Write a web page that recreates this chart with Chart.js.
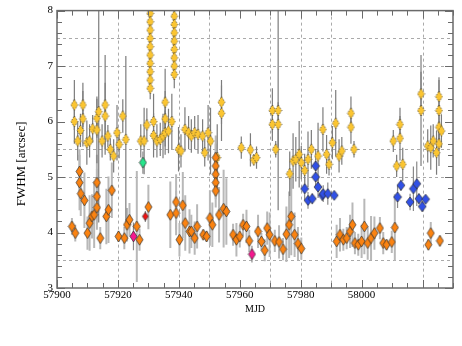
<!DOCTYPE html>
<html lang="en">
<head>
<meta charset="UTF-8">
<title>FWHM vs MJD</title>
<script src="https://cdn.jsdelivr.net/npm/chart.js"></script>
<style>
  html, body { margin: 0; padding: 0; background: #fff; }
  #wrap { width: 462px; height: 346px; }
</style>
</head>
<body>
<div id="wrap"><canvas id="chart" width="462" height="346"></canvas></div>
<script>
// seeing measurements, one set of arrays per colour group
const goldMjd = [57905.7,57905.7,57906.8,57907.7,57908.5,57908.5,57909.8,57910.7,57911.7,57913.1,57913.1,57913.7,57914.8,57915.8,57915.8,57916.7,57917.5,57918.6,57919.7,57920.4,57921.6,57922.6,57927.5,57928.6,57929.5,
    57930.6,57930.6,57930.6,57930.6,57930.6,57930.6,57930.6,57930.6,57930.6,57930.6,
    57931.7,57931.7,57932.8,57933.9,57934.8,57935.5,57935.5,57935.5,57936.6,57937.7,
    57938.5,57938.5,57938.5,57938.5,57938.5,57938.5,57938.5,57938.5,
    57939.9,57940.7,57942.0,57943.2,57944.1,57945.2,57946.3,57947.8,57948.5,57949.6,57950.4,57952.6,57954.0,57954.0,57960.5,57963.5,57964.6,57965.5,57970.7,57970.7,57971.8,57972.6,57972.6,57976.4,57977.5,57978.4,57979.5,57980.2,57981.3,57982.4,57983.5,57985.7,57987.3,57988.5,57989.3,57990.4,57991.5,57992.6,57993.5,57996.5,57996.5,57997.5,58010.4,58011.5,58012.6,58012.6,58013.5,58019.5,58019.5,58021.7,58022.7,58023.5,58024.6,58025.4,58025.4,58025.4,58025.4,58026.2];
const goldFwhm = [6.30,6.00,5.65,5.84,6.30,6.05,5.62,5.65,5.87,6.06,5.85,6.18,5.65,6.30,6.10,5.74,5.50,5.38,5.80,5.59,6.10,5.68,5.65,5.65,5.94,
    7.95,7.80,7.65,7.50,7.35,7.20,7.05,6.90,6.75,6.60,
    6.00,5.75,5.65,5.68,5.74,6.35,6.05,5.80,5.83,6.00,
    7.90,7.75,7.60,7.45,7.30,7.15,7.00,6.85,
    5.50,5.47,5.86,5.80,5.74,5.80,5.77,5.74,5.44,5.80,5.65,5.35,6.35,6.15,5.53,5.49,5.31,5.35,6.20,5.95,5.50,6.20,5.95,5.06,5.29,5.32,5.41,5.26,5.12,5.32,5.50,5.38,5.86,5.41,5.23,5.62,5.97,5.38,5.47,6.15,5.90,5.50,5.65,5.20,5.95,5.70,5.23,6.50,6.20,5.56,5.53,5.65,5.44,6.45,6.20,5.90,5.60,5.83];
const goldErr = [0.45,0.40,0.35,0.30,0.40,0.50,0.40,0.30,0.25,0.35,0.60,2.00,0.30,0.90,0.60,0.20,0.20,0.30,0.50,0.25,0.30,1.50,0.30,0.60,0.30,
    0.20,0.20,0.20,0.20,0.20,0.20,0.20,0.20,0.20,0.20,
    0.50,0.40,0.30,0.30,0.40,0.60,0.50,0.40,0.40,0.50,
    0.25,0.25,0.25,0.25,0.25,0.25,0.25,0.25,
    0.40,0.30,0.40,0.30,0.30,0.30,0.35,0.30,0.25,0.50,0.60,0.60,0.40,0.50,0.20,0.30,0.10,0.20,0.40,0.30,0.15,1.80,0.40,0.40,0.50,0.40,0.60,0.30,0.30,0.50,0.35,0.60,0.40,0.35,0.20,0.30,0.60,0.30,0.25,0.30,0.30,0.15,0.20,0.20,0.30,0.40,0.30,0.40,1.00,0.30,0.40,0.30,0.40,0.30,0.60,0.40,0.40,0.30];

const orangeMjd = [57904.9,57906.0,57907.4,57907.4,57907.8,57909.0,57910.0,57910.7,57911.5,57912.2,57913.1,57913.1,57913.1,57914.2,57916.2,57916.9,57918.0,57920.2,57922.1,57923.0,57923.8,57926.2,57927.1,57930.0,57937.2,57939.1,57939.1,57940.2,57941.3,57942.1,57943.5,57944.1,57945.2,57946.0,57948.0,57949.1,57950.2,57951.0,
    57952.1,57952.1,57952.1,57952.1,57952.1,
    57953.2,57954.7,57955.6,57957.8,57958.9,57960.0,57961.1,57962.2,57963.1,57966.0,57967.1,57968.2,57969.0,57969.8,57971.5,57972.9,57974.2,57975.3,57976.2,57976.9,57978.0,57979.1,57980.2,57991.8,57992.9,57994.0,57995.1,57996.2,57997.0,57997.8,57998.9,58000.0,58000.9,58002.0,58003.1,58004.2,58006.0,58007.1,58008.2,58009.9,58010.9,58021.9,58022.7,58025.7];
const orangeFwhm = [4.11,3.99,5.10,4.90,4.70,4.58,3.99,4.17,4.29,4.32,4.90,4.65,4.45,3.90,4.29,4.41,4.76,3.93,3.90,4.14,4.23,4.11,3.87,4.46,4.32,4.55,4.35,3.87,4.49,4.17,4.02,4.02,3.90,4.11,3.96,3.93,4.26,4.14,
    5.35,5.20,5.05,4.90,4.75,
    4.32,4.43,4.38,3.96,3.87,3.93,4.14,4.11,3.85,4.02,3.84,3.68,4.08,3.96,3.85,3.83,3.70,3.97,4.14,4.29,3.96,3.80,3.71,3.84,3.96,3.87,3.90,4.02,4.14,3.81,3.78,3.84,4.11,3.81,3.90,3.99,4.08,3.81,3.78,3.83,4.09,3.78,3.99,3.85];
const orangeErr = [0.15,0.15,0.40,0.50,0.40,0.50,0.30,0.50,0.40,0.60,0.50,0.50,0.40,0.20,0.50,0.60,0.50,0.10,0.20,0.30,0.30,1.00,0.20,0.40,0.60,0.50,0.40,0.30,0.60,0.50,0.40,0.30,0.30,0.40,0.10,0.10,0.50,0.40,
    0.40,0.40,0.40,0.30,0.30,
    0.50,0.70,0.60,0.20,0.30,0.20,0.20,0.30,0.20,0.30,0.15,0.20,0.30,0.40,0.20,0.30,0.20,0.50,0.60,0.70,0.40,0.30,0.20,0.30,0.30,0.20,0.20,0.30,0.40,0.20,0.20,0.30,0.50,0.30,0.40,0.30,0.20,0.20,0.10,0.20,0.60,0.10,0.20,0.10];

const blueMjd = [57981.3,57982.4,57983.8,57984.9,57984.9,57985.7,57987.1,57987.4,57988.9,57991.0,58011.8,58012.9,58015.9,58017.0,58018.1,58018.8,58019.9,58021.0];
const blueFwhm = [4.79,4.58,4.61,5.20,5.00,4.82,4.67,4.70,4.70,4.67,4.64,4.85,4.55,4.79,4.88,4.61,4.47,4.60];
const blueErr = [0.20,0.15,0.10,0.30,0.20,0.20,0.10,0.15,0.20,0.05,0.20,0.10,0.15,0.40,0.40,0.10,0.10,0.05];

const pinkMjd = [57925.1, 57964.0];
const pinkFwhm = [3.93, 3.61];
const pinkErr = [0.25, 0.15];

const greenMjd = [57928.2];
const greenFwhm = [5.26];
const greenErr = [0.20];

const redMjd = [57929.0];
const redFwhm = [4.29];
const redErr = [0.10];

// reference lines
const xRefLines = [57920, 57940, 57950, 57970, 57980, 57990, 58020];
const yRefLines = [3.5, 5, 5.5, 7, 7.5];

function toPoints(xs, ys, es) {
    return xs.map((x, i) => ({ x: x, y: ys[i], err: es[i] }));
}

function diamond(fill, w, h, dashed) {
    const c = document.createElement('canvas');
    c.width = w + 2;
    c.height = h + 2;
    const g = c.getContext('2d');
    const cx = c.width / 2, cy = c.height / 2;
    g.beginPath();
    g.moveTo(cx, cy - h / 2);
    g.lineTo(cx + w / 2, cy);
    g.lineTo(cx, cy + h / 2);
    g.lineTo(cx - w / 2, cy);
    g.closePath();
    g.fillStyle = fill;
    g.fill();
    g.strokeStyle = 'rgba(40,40,40,0.85)';
    g.lineWidth = 0.8;
    if (dashed) g.setLineDash([1.5, 1.5]);
    g.stroke();
    return c;
}

function series(xs, ys, es, fill, errColor, errWidth, w, h, dashed) {
    return {
        data: toPoints(xs, ys, es),
        pointStyle: diamond(fill, w, h, dashed),
        errColor: errColor,
        errWidth: errWidth
    };
}

const refGrid = {
    id: 'refGrid',
    beforeDatasetsDraw(chart) {
        const { ctx, chartArea: a, scales: { x, y } } = chart;
        ctx.save();
        ctx.strokeStyle = '#aaa';
        ctx.lineWidth = 1;
        ctx.setLineDash([3, 3]);
        xRefLines.forEach(v => {
            const px = Math.round(x.getPixelForValue(v)) + 0.5;
            ctx.beginPath(); ctx.moveTo(px, a.top); ctx.lineTo(px, a.bottom); ctx.stroke();
        });
        yRefLines.forEach(v => {
            const py = Math.round(y.getPixelForValue(v)) + 0.5;
            ctx.beginPath(); ctx.moveTo(a.left, py); ctx.lineTo(a.right, py); ctx.stroke();
        });
        ctx.restore();
    }
};

const errorBars = {
    id: 'errorBars',
    beforeDatasetsDraw(chart) {
        const { ctx, chartArea: a, scales: { x, y } } = chart;
        ctx.save();
        ctx.beginPath();
        ctx.rect(a.left, a.top, a.right - a.left, a.bottom - a.top);
        ctx.clip();
        chart.data.datasets.forEach(ds => {
            ctx.strokeStyle = ds.errColor;
            ctx.lineWidth = ds.errWidth;
            ds.data.forEach(p => {
                const px = x.getPixelForValue(p.x);
                ctx.beginPath();
                ctx.moveTo(px, y.getPixelForValue(p.y - p.err));
                ctx.lineTo(px, y.getPixelForValue(p.y + p.err));
                ctx.stroke();
            });
        });
        ctx.restore();
    }
};

// box around the plot with inward ticks on all four sides
const frame = {
    id: 'frame',
    afterDatasetsDraw(chart) {
        const { ctx, chartArea: a, scales: { x, y } } = chart;
        ctx.save();
        ctx.strokeStyle = '#6a6a6a';
        ctx.lineWidth = 1;
        for (let v = 57900; v <= 58030; v += 5) {
            const px = Math.round(x.getPixelForValue(v)) + 0.5;
            const len = v % 20 === 0 ? 8 : 5;
            ctx.beginPath();
            ctx.moveTo(px, a.bottom); ctx.lineTo(px, a.bottom - len);
            ctx.moveTo(px, a.top); ctx.lineTo(px, a.top + len);
            ctx.stroke();
        }
        for (let i = 0; i <= 25; i++) {
            const v = 3 + i * 0.2;
            const py = Math.round(y.getPixelForValue(v)) + 0.5;
            const len = i % 5 === 0 ? 8 : 5;
            ctx.beginPath();
            ctx.moveTo(a.left, py); ctx.lineTo(a.left + len, py);
            ctx.moveTo(a.right, py); ctx.lineTo(a.right - len, py);
            ctx.stroke();
        }
        ctx.lineWidth = 1.5;
        ctx.strokeRect(a.left, a.top, a.right - a.left, a.bottom - a.top);
        ctx.restore();
    }
};

const serif = 'Liberation Serif, Times New Roman, serif';

new Chart(document.getElementById('chart'), {
    type: 'scatter',
    data: {
        datasets: [
            series(orangeMjd, orangeFwhm, orangeErr, '#fb8311', '#b8b8b8', 2, 7, 11, false),
            series(goldMjd, goldFwhm, goldErr, '#fbc531', '#7c7c7c', 1.2, 7, 11, true),
            series(blueMjd, blueFwhm, blueErr, '#3050e6', '#8a8a8a', 1.2, 8, 10, false),
            series(greenMjd, greenFwhm, greenErr, '#27e58c', '#8a8a8a', 1.2, 7, 11, false),
            series(pinkMjd, pinkFwhm, pinkErr, '#f5178f', '#8a8a8a', 1.2, 7, 11, false),
            series(redMjd, redFwhm, redErr, '#f21010', '#8a8a8a', 1.2, 6, 8, false)
        ]
    },
    options: {
        responsive: false,
        animation: false,
        layout: { padding: { left: 0, right: 9, top: 6, bottom: 0 } },
        plugins: { legend: { display: false }, tooltip: { enabled: false } },
        scales: {
            x: {
                type: 'linear',
                min: 57900,
                max: 58030,
                afterFit: s => { s.height = 58; },
                grid: { display: false, drawTicks: false },
                border: { display: false },
                ticks: {
                    stepSize: 20,
                    autoSkip: false,
                    maxRotation: 0,
                    padding: 1,
                    color: '#000',
                    font: { family: serif, size: 11 },
                    callback: v => (v % 20 === 0 ? String(v) : '')
                },
                title: {
                    display: true,
                    text: 'MJD',
                    color: '#000',
                    font: { family: serif, size: 10 },
                    padding: { top: 0, bottom: 31 }
                }
            },
            y: {
                min: 3,
                max: 8,
                afterFit: s => { s.width = 57; },
                grid: { display: false, drawTicks: false },
                border: { display: false },
                ticks: {
                    stepSize: 1,
                    padding: 4,
                    color: '#000',
                    font: { family: serif, size: 11 },
                    callback: v => String(v)
                },
                title: {
                    display: true,
                    // trailing spaces push the rotated label a little lower, as in the original
                    text: 'FWHM [arcsec]         ',
                    color: '#000',
                    font: { family: serif, size: 13 },
                    padding: { top: 14, bottom: 0 }
                }
            }
        }
    },
    plugins: [refGrid, errorBars, frame]
});
</script>
</body>
</html>
